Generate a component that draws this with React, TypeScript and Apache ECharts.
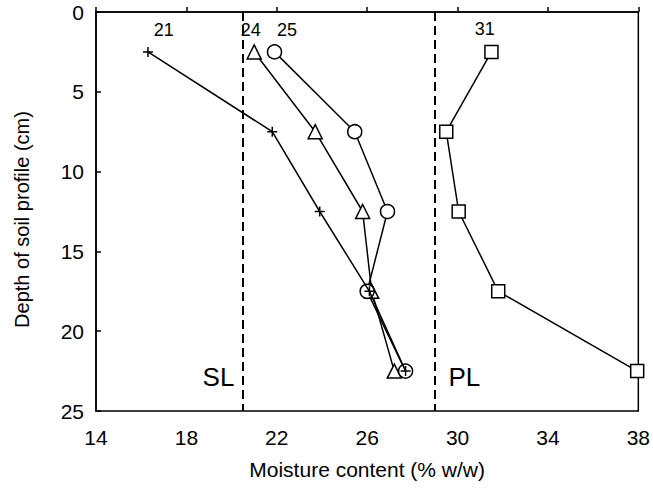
import React, { useEffect, useRef } from "react";
import * as echarts from "echarts";

const depths = [2.5, 7.5, 12.5, 17.5, 22.5];
const series21 = [16.3, 21.8, 23.9, 26.1, 27.7];
const series24 = [21.0, 23.7, 25.8, 26.2, 27.2];
const series25 = [21.9, 25.45, 26.9, 26.0, 27.7];
const series31 = [31.5, 29.5, 30.05, 31.8, 37.95];

const seriesNames = ["21", "24", "25", "31"];
const labelX = [17.0, 20.85, 22.45, 31.2];
const labelY = [1.13, 1.13, 1.13, 1.06];

const limitNames = ["SL", "PL"];
const limitValues = [20.5, 29.0];
const limitLabelX = [19.42, 30.3];
const limitLabelY = [22.9, 22.9];

const xTicks = { min: 14, max: 38, interval: 4 };
const yTicks = { min: 0, max: 25, interval: 5 };

const FONT = "'Liberation Sans', Arial, sans-serif";
const PLUS = "path://M0,5L10,5M5,0L5,10";

function pairs(xs: number[]) {
  return xs.map((x, i) => [x, depths[i]]);
}

export default function App() {
  const ref = useRef<HTMLDivElement>(null);
  useEffect(() => {
    if (!ref.current) return;
    const chart = echarts.init(ref.current, undefined, { renderer: "svg" });
    const lineBase = {
      type: "line" as const,
      lineStyle: { color: "#000", width: 1.5 },
      itemStyle: { color: "#fff", borderColor: "#000", borderWidth: 1.5 },
      z: 3,
    };
    const labelStyle = (size: number) => ({
      show: true,
      position: "inside",
      formatter: (p: any) => p.name,
      fontSize: size,
      fontFamily: FONT,
      color: "#000",
      textBorderWidth: 0,
    });
    chart.setOption({
      animation: false,
      backgroundColor: "#fff",
      textStyle: { fontFamily: FONT, color: "#000" },
      grid: {
        left: 96,
        right: 12,
        top: 12,
        bottom: 79,
        show: true,
        borderColor: "#000",
        borderWidth: 1.5,
        backgroundColor: "transparent",
      },
      xAxis: {
        type: "value",
        min: xTicks.min,
        max: xTicks.max,
        interval: xTicks.interval,
        name: "Moisture content (% w/w)",
        nameLocation: "middle",
        nameGap: 58,
        nameTextStyle: {
          fontSize: 21,
          fontFamily: FONT,
          color: "#000",
          align: "center",
          verticalAlign: "middle",
        },
        axisLine: { lineStyle: { color: "#000", width: 1.5 } },
        axisTick: { inside: true, length: 5, lineStyle: { color: "#000", width: 1.5 } },
        axisLabel: { fontSize: 21, fontFamily: FONT, color: "#000", margin: 16 },
        splitLine: { show: false },
      },
      yAxis: {
        type: "value",
        inverse: true,
        min: yTicks.min,
        max: yTicks.max,
        interval: yTicks.interval,
        name: "Depth of soil profile (cm)",
        nameLocation: "middle",
        nameGap: 74,
        nameRotate: 90,
        nameTextStyle: {
          fontSize: 20,
          fontFamily: FONT,
          color: "#000",
          align: "center",
          verticalAlign: "middle",
          padding: [0, 16, 0, 0],
        },
        axisLine: { lineStyle: { color: "#000", width: 1.5 } },
        axisTick: { inside: true, length: 5, lineStyle: { color: "#000", width: 1.5 } },
        axisLabel: { fontSize: 21, fontFamily: FONT, color: "#000", margin: 12 },
        splitLine: { show: false },
      },
      series: [
        {
          ...lineBase,
          name: seriesNames[0],
          data: pairs(series21),
          symbol: PLUS,
          symbolSize: 10,
          z: 5,
          itemStyle: { color: "#000", borderColor: "#000", borderWidth: 1.5 },
        },
        {
          ...lineBase,
          name: seriesNames[1],
          data: pairs(series24),
          symbol: "triangle",
          symbolSize: 14,
        },
        {
          ...lineBase,
          name: seriesNames[2],
          data: pairs(series25),
          symbol: "circle",
          symbolSize: 14,
        },
        {
          ...lineBase,
          name: seriesNames[3],
          data: pairs(series31),
          symbol: "rect",
          symbolSize: 13,
        },
        {
          type: "scatter",
          name: "limits",
          data: [],
          markLine: {
            silent: true,
            symbol: "none",
            label: { show: false },
            lineStyle: { color: "#000", width: 2, type: [9, 5] },
            data: limitValues.map((v) => ({ xAxis: v })),
          },
        },
        {
          type: "scatter",
          name: "seriesLabels",
          symbolSize: 0,
          silent: true,
          itemStyle: { opacity: 1, color: "#000" },
          data: seriesNames.map((n, i) => ({ value: [labelX[i], labelY[i]], name: n })),
          label: labelStyle(18),
        },
        {
          type: "scatter",
          name: "limitLabels",
          symbolSize: 0,
          silent: true,
          itemStyle: { opacity: 1, color: "#000" },
          data: limitNames.map((n, i) => ({ value: [limitLabelX[i], limitLabelY[i]], name: n })),
          label: labelStyle(26),
        },
      ],
    });
    return () => chart.dispose();
  }, []);
  return (
    <div
      ref={ref}
      style={{ position: "fixed", left: 0, top: 0, width: 653, height: 490, background: "#fff" }}
    />
  );
}
